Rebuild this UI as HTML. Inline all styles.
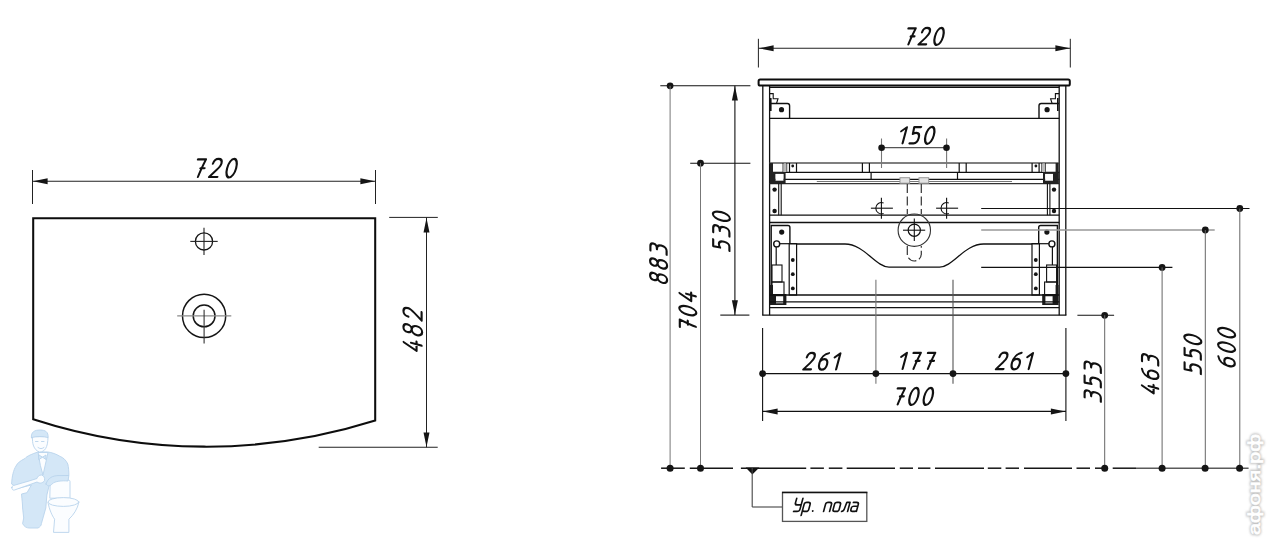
<!DOCTYPE html>
<html><head><meta charset="utf-8"><style>
html,body{margin:0;padding:0;background:#fff;}
body{width:1268px;height:544px;overflow:hidden;font-family:"Liberation Sans",sans-serif;}
svg{display:block;}
</style></head><body>
<svg width="1268" height="544" viewBox="0 0 1268 544">
<rect width="1268" height="544" fill="#fff"/>
<g stroke="#b9d4ec" stroke-width="0.9" stroke-linejoin="round" stroke-linecap="round">
<path fill="#d4e7f7" d="M38,452 C32,454 27,456 24.8,458.6 C20,461 17.5,463 16,466 C13.5,470 12,476 11.6,484 L18.2,488.3 L31.4,485 L27,492.7 L21.5,494 C22,500 22.6,504 22.6,508 L23.7,518 L22.6,523.6 C24,526.5 26.5,528 29.2,528 L38,528 C40,527 41.4,525.5 41.4,523.6 L45.8,508 L46.9,495 L49,486 L55.7,477.3 L68.9,475.5 C68.9,471 68.5,467 67.8,464 C66,460 63,457.5 60.1,456.4 C56,454 52,452.5 48,452 Z"/>
<path fill="#fbfdff" d="M38.5,452.5 L48,452.5 L45,466 L43,475 L40.5,466 Z"/>
<path fill="#d4e7f7" d="M39,455 L42.5,457.2 L46,455 L46,459.5 L42.5,457.2 L39,459.5 Z"/>
<path fill="#fbfdff" d="M32.5,437 C32,443 33.5,450 39.5,452 C44.5,452 48,448 48,437 Z"/>
<path fill="none" d="M35.5,441.5 H38 M41.5,441.5 H44 M38,447.5 C40,449 42,449 44,447.5"/>
<path fill="#d4e7f7" d="M31.4,437.6 C30.8,432 34.5,430 40,430 C45.5,430 48.6,432 48,437.6 C44,436.2 36,436.2 31.4,437.6 Z"/>
<path fill="#fbfdff" d="M11.8,487.5 C11.8,489.5 13,490.5 14.5,490 L30,484.5 L37,482 C40,484 43,483 44.5,480.5 C45,478 44,475.5 41.5,475 C39,475 37.5,476.5 37,478.5 L29,481 L13.5,485.5 C12.5,486 11.8,486.5 11.8,487.5 Z"/>
<path fill="#fbfdff" d="M50.2,481.5 C50.2,480 51,479.5 60,479.5 C69,479.5 70,480 70,481.5 L70,498.2 L50.2,498.2 Z"/>
<path fill="#d4e7f7" d="M46,484 C48,477.5 53,475.8 58,475.6 L68.9,475.5 L68,481 C62,480.5 55,481 52,484 C50.5,486 48,487 46,484 Z"/>
<path fill="#fbfdff" d="M48,502.6 C49.5,510 52,515.5 54.6,519.2 L53.5,532.4 L68.9,532.4 L68.9,519.2 C73.5,515 77.5,509 78.8,502.6 Z"/>
<ellipse cx="63.4" cy="502" rx="15.4" ry="4.4" fill="#fbfdff"/>
</g>
<line x1="32.5" y1="170" x2="32.5" y2="204" stroke="#222" stroke-width="1.0" />
<line x1="375.5" y1="170" x2="375.5" y2="204" stroke="#222" stroke-width="1.0" />
<line x1="32.5" y1="181.3" x2="375.5" y2="181.3" stroke="#222" stroke-width="1.1" />
<path d="M33,181.3 L47.60,178.30 L47.60,184.30 Z" fill="#151515"/>
<path d="M375,181.3 L360.40,184.30 L360.40,178.30 Z" fill="#151515"/>
<path d="M33.2,218.2 H375.2 V420.6 A560,560 0 0 1 33.2,419.2 Z" stroke="#0d0d0d" stroke-width="2.05" fill="none" />
<circle cx="204" cy="241.4" r="8.6" fill="none" stroke="#151515" stroke-width="1.3"/>
<line x1="190.3" y1="241.4" x2="217.7" y2="241.4" stroke="#222" stroke-width="1.1" />
<line x1="204" y1="227.8" x2="204" y2="255" stroke="#222" stroke-width="1.1" />
<circle cx="204.1" cy="315.9" r="21.6" fill="none" stroke="#151515" stroke-width="1.5"/>
<circle cx="204.1" cy="315.9" r="10.9" fill="none" stroke="#151515" stroke-width="1.5"/>
<line x1="177.2" y1="315.9" x2="231.3" y2="315.9" stroke="#8a8a8a" stroke-width="1.3" />
<line x1="204.1" y1="309.7" x2="204.1" y2="343.5" stroke="#333" stroke-width="1.1" />
<line x1="389.2" y1="217.4" x2="437.8" y2="217.4" stroke="#222" stroke-width="1.0" />
<line x1="318.7" y1="447.3" x2="437.7" y2="447.3" stroke="#222" stroke-width="1.1" />
<line x1="426.5" y1="217.4" x2="426.5" y2="447.3" stroke="#222" stroke-width="1.0" />
<path d="M426.5,218 L429.50,232.60 L423.50,232.60 Z" fill="#151515"/>
<path d="M426.5,447 L423.50,432.40 L429.50,432.40 Z" fill="#151515"/>
<line x1="758.4" y1="38.8" x2="758.4" y2="67.5" stroke="#222" stroke-width="1.0" />
<line x1="1070.3" y1="38.8" x2="1070.3" y2="67.5" stroke="#222" stroke-width="1.0" />
<line x1="758.4" y1="48.3" x2="1070.3" y2="48.3" stroke="#222" stroke-width="1.1" />
<path d="M759,48.3 L773.60,45.30 L773.60,51.30 Z" fill="#151515"/>
<path d="M1070,48.3 L1055.40,51.30 L1055.40,45.30 Z" fill="#151515"/>
<rect x="758.6" y="79.6" width="311.2" height="5.9" rx="1.6" fill="none" stroke="#0d0d0d" stroke-width="2.0"/>
<line x1="762.8" y1="85.5" x2="762.8" y2="315.2" stroke="#111" stroke-width="1.3" />
<line x1="769.6" y1="85.5" x2="769.6" y2="315.2" stroke="#111" stroke-width="1.3" />
<line x1="1059.2" y1="85.5" x2="1059.2" y2="315.2" stroke="#111" stroke-width="1.3" />
<line x1="1065.8" y1="85.5" x2="1065.8" y2="315.2" stroke="#111" stroke-width="1.3" />
<line x1="762.2" y1="315.2" x2="1066.4" y2="315.2" stroke="#111" stroke-width="1.3" />
<line x1="769.6" y1="87.3" x2="1059.2" y2="87.3" stroke="#111" stroke-width="1.2" />
<line x1="769.6" y1="118.3" x2="1059.2" y2="118.3" stroke="#111" stroke-width="1.2" />
<path d="M769.6,103.5 H787.4 Q789.6,103.5 789.6,105.7 V118.3" stroke="#111" stroke-width="1.4" fill="none" />
<circle cx="781.5" cy="109.7" r="2.6" fill="#151515"/>
<path d="M769.6,93.6 H773.2 V98.7 H778 L776.5,103.5" stroke="#111" stroke-width="1.1" fill="none" />
<line x1="770.8" y1="98" x2="770.8" y2="111" stroke="#111" stroke-width="1.6" />
<path d="M1059.0,103.5 H1041.1999999999998 Q1039.0,103.5 1039.0,105.7 V118.3" stroke="#111" stroke-width="1.4" fill="none" />
<circle cx="1047.1" cy="109.7" r="2.6" fill="#151515"/>
<path d="M1059.0,93.6 H1055.3999999999999 V98.7 H1050.6 L1052.1,103.5" stroke="#111" stroke-width="1.1" fill="none" />
<line x1="1057.8" y1="98" x2="1057.8" y2="111" stroke="#111" stroke-width="1.6" />
<line x1="769.6" y1="163.0" x2="1059.2" y2="163.0" stroke="#555" stroke-width="1.3" />
<line x1="769.6" y1="172.3" x2="1059.2" y2="172.3" stroke="#111" stroke-width="1.3" />
<line x1="769.6" y1="179.3" x2="1059.2" y2="179.3" stroke="#111" stroke-width="1.3" />
<line x1="816.8" y1="181.5" x2="1012" y2="181.5" stroke="#777" stroke-width="1.0" />
<line x1="769.6" y1="183.6" x2="1059.2" y2="183.6" stroke="#333" stroke-width="1.3" />
<rect x="770" y="163" width="3" height="20.6" stroke="none" stroke-width="0" fill="#222"/>
<line x1="783.2" y1="163" x2="783.2" y2="172.3" stroke="#111" stroke-width="1.2" />
<line x1="786.6" y1="163" x2="786.6" y2="172.3" stroke="#111" stroke-width="1.2" />
<line x1="789.5" y1="163" x2="789.5" y2="172.3" stroke="#111" stroke-width="1.2" />
<line x1="796.5" y1="163" x2="796.5" y2="172.3" stroke="#111" stroke-width="1.2" />
<line x1="862.4" y1="163" x2="862.4" y2="172.3" stroke="#111" stroke-width="1.2" />
<line x1="869.4" y1="163" x2="869.4" y2="172.3" stroke="#111" stroke-width="1.2" />
<circle cx="792.7" cy="166" r="1.4" fill="#151515"/>
<path d="M770,172 H785.6 V184 H770 Z M775.6,173.9 H783.4 V180.4 H775.6 Z" fill="#222" fill-rule="evenodd"/>
<rect x="775.6" y="173.9" width="7.8" height="6.5" fill="#fff"/>
<rect x="783.2" y="163.5" width="3.4" height="8.5" stroke="none" stroke-width="0" fill="#bbb"/>
<line x1="871.1" y1="172.3" x2="871.1" y2="179.3" stroke="#111" stroke-width="1.2" />
<line x1="778.7" y1="183.6" x2="778.7" y2="215.2" stroke="#111" stroke-width="1.1" />
<line x1="781.2" y1="183.6" x2="781.2" y2="215.2" stroke="#111" stroke-width="1.1" />
<circle cx="774.6" cy="189.6" r="2.2" fill="#151515"/>
<circle cx="774.6" cy="211" r="2.2" fill="#151515"/>
<rect x="1055.6" y="163" width="3" height="20.6" stroke="none" stroke-width="0" fill="#222"/>
<line x1="1045.3999999999999" y1="163" x2="1045.3999999999999" y2="172.3" stroke="#111" stroke-width="1.2" />
<line x1="1042.0" y1="163" x2="1042.0" y2="172.3" stroke="#111" stroke-width="1.2" />
<line x1="1039.1" y1="163" x2="1039.1" y2="172.3" stroke="#111" stroke-width="1.2" />
<line x1="1032.1" y1="163" x2="1032.1" y2="172.3" stroke="#111" stroke-width="1.2" />
<line x1="966.1999999999999" y1="163" x2="966.1999999999999" y2="172.3" stroke="#111" stroke-width="1.2" />
<line x1="959.1999999999999" y1="163" x2="959.1999999999999" y2="172.3" stroke="#111" stroke-width="1.2" />
<circle cx="1035.8999999999999" cy="166" r="1.4" fill="#151515"/>
<path d="M1058.6,172 H1043.0 V184 H1058.6 Z M1053.0,173.9 H1045.1999999999998 V180.4 H1053.0 Z" fill="#222" fill-rule="evenodd"/>
<rect x="1045.1999999999998" y="173.9" width="7.8" height="6.5" fill="#fff"/>
<rect x="1042.0" y="163.5" width="3.4" height="8.5" stroke="none" stroke-width="0" fill="#bbb"/>
<line x1="957.4999999999999" y1="172.3" x2="957.4999999999999" y2="179.3" stroke="#111" stroke-width="1.2" />
<line x1="1049.8999999999999" y1="183.6" x2="1049.8999999999999" y2="215.2" stroke="#111" stroke-width="1.1" />
<line x1="1047.3999999999999" y1="183.6" x2="1047.3999999999999" y2="215.2" stroke="#111" stroke-width="1.1" />
<circle cx="1054.0" cy="189.6" r="2.2" fill="#151515"/>
<circle cx="1054.0" cy="211" r="2.2" fill="#151515"/>
<rect x="900" y="177.7" width="9.6" height="5.5" stroke="#999" stroke-width="1.0" fill="#e2e2e2"/>
<rect x="919" y="177.7" width="9.7" height="5.5" stroke="#999" stroke-width="1.0" fill="#e2e2e2"/>
<path d="M907.3,184 V214 M921.3,184 V214" stroke="#333" stroke-width="1.2" fill="none" stroke-dasharray="9,3.5"/>
<path d="M907.3,246 V254 A7,7 0 0 0 921.3,254 V246" stroke="#333" stroke-width="1.2" fill="none" stroke-dasharray="9,3"/>
<line x1="769.6" y1="215.2" x2="1059.2" y2="215.2" stroke="#111" stroke-width="1.3" />
<line x1="769.6" y1="222.5" x2="1059.2" y2="222.5" stroke="#111" stroke-width="1.3" />
<line x1="870.9" y1="208.2" x2="892.9" y2="208.2" stroke="#111" stroke-width="1.1" />
<line x1="881.4" y1="197.7" x2="881.4" y2="218.79999999999998" stroke="#111" stroke-width="1.1" />
<path d="M883.6,202.89999999999998 A5.7,5.7 0 1 0 883.6,213.5" stroke="#111" stroke-width="1.1" fill="none" />
<line x1="936.1" y1="208.2" x2="958.1" y2="208.2" stroke="#111" stroke-width="1.1" />
<line x1="946.6" y1="197.7" x2="946.6" y2="218.79999999999998" stroke="#111" stroke-width="1.1" />
<path d="M948.8000000000001,202.89999999999998 A5.7,5.7 0 1 0 948.8000000000001,213.5" stroke="#111" stroke-width="1.1" fill="none" />
<circle cx="914.3" cy="230.2" r="16.2" fill="none" stroke="#333" stroke-width="1.1"/>
<circle cx="914.3" cy="230.2" r="6.1" fill="none" stroke="#111" stroke-width="1.2"/>
<line x1="903" y1="230.2" x2="925.2" y2="230.2" stroke="#111" stroke-width="1.1" />
<line x1="914.3" y1="218.6" x2="914.3" y2="240.9" stroke="#111" stroke-width="1.1" />
<path d="M771.2,294.8 V225.5 H788 Q789.9,225.5 789.9,227.4 V243.7" stroke="#111" stroke-width="1.4" fill="none" />
<circle cx="781.7" cy="232.1" r="2.6" fill="#151515"/>
<circle cx="776.7" cy="243.9" r="3.0" fill="none" stroke="#111" stroke-width="1.4"/>
<line x1="776.2" y1="246.9" x2="776.2" y2="265" stroke="#111" stroke-width="1.2" />
<rect x="772" y="265" width="10" height="17" stroke="#111" stroke-width="1.1" fill="none"/>
<rect x="772" y="282" width="12" height="13" stroke="#111" stroke-width="1.1" fill="none"/>
<rect x="789.2" y="243.7" width="7.4" height="51.3" stroke="#111" stroke-width="1.2" fill="none"/>
<circle cx="792.8" cy="260" r="1.9" fill="#151515"/>
<circle cx="792.8" cy="274.2" r="1.9" fill="#151515"/>
<circle cx="792.8" cy="288.4" r="1.9" fill="#151515"/>
<line x1="779.7" y1="243.7" x2="796.6" y2="243.7" stroke="#111" stroke-width="1.2" />
<path d="M770,285 H773 V294 H786.4 V305 H770 Z M776,296.2 H783.2 V303.3 H776 Z" fill="#1b1b1b" fill-rule="evenodd"/>
<path d="M1057.3999999999999,294.8 V225.5 H1040.6 Q1038.6999999999998,225.5 1038.6999999999998,227.4 V243.7" stroke="#111" stroke-width="1.4" fill="none" />
<circle cx="1046.8999999999999" cy="232.1" r="2.6" fill="#151515"/>
<circle cx="1051.8999999999999" cy="243.9" r="3.0" fill="none" stroke="#111" stroke-width="1.4"/>
<line x1="1052.3999999999999" y1="246.9" x2="1052.3999999999999" y2="265" stroke="#111" stroke-width="1.2" />
<rect x="1046.6" y="265" width="10" height="17" stroke="#111" stroke-width="1.1" fill="none"/>
<rect x="1044.6" y="282" width="12" height="13" stroke="#111" stroke-width="1.1" fill="none"/>
<rect x="1032.0" y="243.7" width="7.4" height="51.3" stroke="#111" stroke-width="1.2" fill="none"/>
<circle cx="1035.8" cy="260" r="1.9" fill="#151515"/>
<circle cx="1035.8" cy="274.2" r="1.9" fill="#151515"/>
<circle cx="1035.8" cy="288.4" r="1.9" fill="#151515"/>
<line x1="1048.8999999999999" y1="243.7" x2="1032.0" y2="243.7" stroke="#111" stroke-width="1.2" />
<path d="M1058.6,285 H1055.6 V294 H1042.1999999999998 V305 H1058.6 Z M1052.6,296.2 H1045.3999999999999 V303.3 H1052.6 Z" fill="#1b1b1b" fill-rule="evenodd"/>
<path d="M796.6,244 H845 C864,244 876,267.2 889,267.2 H939.6 C952.6,267.2 964.6,244 983.6,244 H1032" stroke="#111" stroke-width="1.3" fill="none" />
<line x1="769.6" y1="295" x2="1059.2" y2="295" stroke="#111" stroke-width="1.3" />
<line x1="769.6" y1="301.8" x2="1059.2" y2="301.8" stroke="#111" stroke-width="1.2" />
<line x1="769.6" y1="307.6" x2="1059.2" y2="307.6" stroke="#111" stroke-width="1.3" />
<line x1="881.5" y1="138.5" x2="881.5" y2="168" stroke="#777" stroke-width="1.1" />
<line x1="946.6" y1="138.5" x2="946.6" y2="168" stroke="#777" stroke-width="1.1" />
<line x1="881.5" y1="147.7" x2="946.6" y2="147.7" stroke="#555" stroke-width="1.2" />
<circle cx="881.6" cy="147.7" r="3.3" fill="#151515"/>
<circle cx="946.5" cy="147.7" r="3.3" fill="#151515"/>
<line x1="875.9" y1="279.7" x2="875.9" y2="383.7" stroke="#777" stroke-width="1.1" />
<line x1="953" y1="279.7" x2="953" y2="383.7" stroke="#555" stroke-width="1.1" />
<line x1="981.2" y1="208.5" x2="1249.5" y2="208.5" stroke="#111" stroke-width="1.1" />
<circle cx="1239.8" cy="208.5" r="3.4" fill="#151515"/>
<line x1="1239.8" y1="208.5" x2="1239.8" y2="468" stroke="#666" stroke-width="1.0" />
<line x1="981.2" y1="230" x2="1214.7" y2="230" stroke="#999" stroke-width="1.4" />
<circle cx="1205.3" cy="230" r="3.4" fill="#151515"/>
<line x1="1205.3" y1="230" x2="1205.3" y2="468" stroke="#666" stroke-width="1.0" />
<line x1="981.2" y1="267.4" x2="1172.4" y2="267.4" stroke="#111" stroke-width="1.1" />
<circle cx="1162.1" cy="267.4" r="3.4" fill="#151515"/>
<line x1="1162.1" y1="267.4" x2="1162.1" y2="468" stroke="#666" stroke-width="1.0" />
<line x1="1077.4" y1="315.3" x2="1114.1" y2="315.3" stroke="#111" stroke-width="1.1" />
<circle cx="1104.7" cy="315.3" r="3.4" fill="#151515"/>
<line x1="1104.7" y1="315.3" x2="1104.7" y2="468" stroke="#666" stroke-width="1.0" />
<line x1="660.3" y1="85.8" x2="750.4" y2="85.8" stroke="#111" stroke-width="1.1" />
<circle cx="670.1" cy="85.8" r="3.4" fill="#151515"/>
<line x1="670.1" y1="85.8" x2="670.1" y2="468" stroke="#777" stroke-width="1.0" />
<line x1="690.2" y1="163.2" x2="750.4" y2="163.2" stroke="#111" stroke-width="1.1" />
<circle cx="700.5" cy="163.2" r="3.4" fill="#151515"/>
<line x1="700.5" y1="163.2" x2="700.5" y2="468" stroke="#777" stroke-width="1.0" />
<line x1="734.9" y1="85.8" x2="734.9" y2="315" stroke="#111" stroke-width="1.1" />
<path d="M734.9,86 L737.90,100.60 L731.90,100.60 Z" fill="#151515"/>
<path d="M734.9,314.8 L731.90,300.20 L737.90,300.20 Z" fill="#151515"/>
<line x1="720.3" y1="315.1" x2="749.4" y2="315.1" stroke="#111" stroke-width="1.1" />
<line x1="762.6" y1="328" x2="762.6" y2="421" stroke="#111" stroke-width="1.1" />
<line x1="1065.9" y1="328" x2="1065.9" y2="421" stroke="#111" stroke-width="1.1" />
<line x1="762.6" y1="373.6" x2="1065.9" y2="373.6" stroke="#111" stroke-width="1.2" />
<circle cx="762.6" cy="373.6" r="3.4" fill="#151515"/>
<circle cx="875.9" cy="373.6" r="3.4" fill="#151515"/>
<circle cx="953" cy="373.6" r="3.4" fill="#151515"/>
<circle cx="1065.9" cy="373.6" r="3.4" fill="#151515"/>
<line x1="762.6" y1="411.4" x2="1065.9" y2="411.4" stroke="#111" stroke-width="1.2" />
<path d="M763,411.4 L777.60,408.40 L777.60,414.40 Z" fill="#151515"/>
<path d="M1065.5,411.4 L1050.90,414.40 L1050.90,408.40 Z" fill="#151515"/>
<line x1="661.1" y1="468.2" x2="684.8" y2="468.2" stroke="#161616" stroke-width="1.5" />
<line x1="689.8" y1="468.2" x2="733" y2="468.2" stroke="#161616" stroke-width="1.5" />
<line x1="740.9" y1="468.2" x2="806.2" y2="468.2" stroke="#161616" stroke-width="1.5" />
<line x1="810.4" y1="468.2" x2="823.9" y2="468.2" stroke="#161616" stroke-width="1.5" />
<line x1="828.8" y1="468.2" x2="842.4" y2="468.2" stroke="#161616" stroke-width="1.5" />
<line x1="846.7" y1="468.2" x2="895" y2="468.2" stroke="#161616" stroke-width="1.5" />
<line x1="899.8" y1="468.2" x2="913" y2="468.2" stroke="#161616" stroke-width="1.5" />
<line x1="918" y1="468.2" x2="930.4" y2="468.2" stroke="#161616" stroke-width="1.5" />
<line x1="935" y1="468.2" x2="984" y2="468.2" stroke="#161616" stroke-width="1.5" />
<line x1="987.8" y1="468.2" x2="1001.3" y2="468.2" stroke="#161616" stroke-width="1.5" />
<line x1="1005.6" y1="468.2" x2="1019" y2="468.2" stroke="#161616" stroke-width="1.5" />
<line x1="1024" y1="468.2" x2="1072" y2="468.2" stroke="#161616" stroke-width="1.5" />
<line x1="1076.5" y1="468.2" x2="1090" y2="468.2" stroke="#161616" stroke-width="1.5" />
<line x1="1095" y1="468.2" x2="1108" y2="468.2" stroke="#161616" stroke-width="1.5" />
<line x1="1112.7" y1="468.2" x2="1136" y2="468.2" stroke="#161616" stroke-width="1.5" />
<line x1="1136" y1="468.2" x2="1248.6" y2="468.2" stroke="#5a5a5a" stroke-width="1.6" />
<circle cx="670.1" cy="468.2" r="3.5" fill="#151515"/>
<circle cx="700.5" cy="468.2" r="3.5" fill="#151515"/>
<circle cx="1104.7" cy="468.2" r="3.5" fill="#151515"/>
<circle cx="1162.1" cy="468.2" r="3.5" fill="#151515"/>
<circle cx="1205.1" cy="468.2" r="3.5" fill="#151515"/>
<circle cx="1239.6" cy="468.2" r="3.5" fill="#151515"/>
<path d="M745.6,467.6 L759.4,467.6 L752.4,474.6 Z" fill="#111"/>
<line x1="752.2" y1="468" x2="752.2" y2="507" stroke="#444" stroke-width="1.1" />
<line x1="752.2" y1="507" x2="782.5" y2="507" stroke="#444" stroke-width="1.1" />
<rect x="782.5" y="492.4" width="84.3" height="29" stroke="#555" stroke-width="1.3" fill="none"/>
<line x1="782" y1="492.4" x2="867.3" y2="492.4" stroke="#111" stroke-width="1.5" />
<g transform="translate(193.20,177.00) scale(1.1) skewX(-15)" fill="none" stroke="#111" stroke-width="1.95" stroke-linecap="round" stroke-linejoin="round"><path transform="translate(0.00,0)" d="M0,-16 H7.3 C6.1,-11 4.8,-5.5 4.3,0 M4.4,-8 H8.2"/><path transform="translate(14.40,0)" d="M0.3,-12 C0.5,-15 2,-16.5 4.1,-16.5 C6.4,-16.5 8,-15 8,-12.3 C8,-10.2 6.8,-8.6 5.2,-6.6 L0,0 H7.6"/><path transform="translate(28.80,0)" d="M4,-16.5 C6.3,-16.5 8.1,-12.7 8.1,-8 C8.1,-3.3 6.3,0.5 4,0.5 C1.7,0.5 -0.1,-3.3 -0.1,-8 C-0.1,-12.7 1.7,-16.5 4,-16.5 Z"/></g>
<g transform="translate(421.60,352.20) rotate(-90) scale(1.1) skewX(-15)" fill="none" stroke="#111" stroke-width="1.95" stroke-linecap="round" stroke-linejoin="round"><path transform="translate(0.00,0)" d="M4.9,-16.3 L0,-4.6 H8.4 M6,-9.6 V0"/><path transform="translate(14.40,0)" d="M4,-9 C2,-9 0.5,-10.6 0.5,-12.8 C0.5,-15 2,-16.5 4,-16.5 C6,-16.5 7.5,-15 7.5,-12.8 C7.5,-10.6 6,-9 4,-9 C1.7,-9 0,-7.2 0,-4.3 C0,-1.4 1.7,0.5 4,0.5 C6.3,0.5 8,-1.4 8,-4.3 C8,-7.2 6.3,-9 4,-9 Z"/><path transform="translate(28.80,0)" d="M0.3,-12 C0.5,-15 2,-16.5 4.1,-16.5 C6.4,-16.5 8,-15 8,-12.3 C8,-10.2 6.8,-8.6 5.2,-6.6 L0,0 H7.6"/></g>
<g transform="translate(904.10,44.40) skewX(-15)" fill="none" stroke="#111" stroke-width="2.15" stroke-linecap="round" stroke-linejoin="round"><path transform="translate(0.00,0)" d="M0,-16 H7.3 C6.1,-11 4.8,-5.5 4.3,0 M4.4,-8 H8.2"/><path transform="translate(14.40,0)" d="M0.3,-12 C0.5,-15 2,-16.5 4.1,-16.5 C6.4,-16.5 8,-15 8,-12.3 C8,-10.2 6.8,-8.6 5.2,-6.6 L0,0 H7.6"/><path transform="translate(28.80,0)" d="M4,-16.5 C6.3,-16.5 8.1,-12.7 8.1,-8 C8.1,-3.3 6.3,0.5 4,0.5 C1.7,0.5 -0.1,-3.3 -0.1,-8 C-0.1,-12.7 1.7,-16.5 4,-16.5 Z"/></g>
<g transform="translate(898.60,143.30) skewX(-15)" fill="none" stroke="#111" stroke-width="2.15" stroke-linecap="round" stroke-linejoin="round"><path transform="translate(0.00,0)" d="M-0.6,-12 L4,-16 V0"/><path transform="translate(10.60,0)" d="M7.6,-16.2 H0.7 L1.2,-9.3 C2,-10 3,-10.5 4.3,-10.5 C6.6,-10.5 8.1,-8.6 8.1,-5.2 C8.1,-1.8 6.6,0 4.5,0 H0.3"/><path transform="translate(25.00,0)" d="M4,-16.5 C6.3,-16.5 8.1,-12.7 8.1,-8 C8.1,-3.3 6.3,0.5 4,0.5 C1.7,0.5 -0.1,-3.3 -0.1,-8 C-0.1,-12.7 1.7,-16.5 4,-16.5 Z"/></g>
<g transform="translate(666.60,283.90) rotate(-90) skewX(-15)" fill="none" stroke="#111" stroke-width="2.15" stroke-linecap="round" stroke-linejoin="round"><path transform="translate(0.00,0)" d="M4,-9 C2,-9 0.5,-10.6 0.5,-12.8 C0.5,-15 2,-16.5 4,-16.5 C6,-16.5 7.5,-15 7.5,-12.8 C7.5,-10.6 6,-9 4,-9 C1.7,-9 0,-7.2 0,-4.3 C0,-1.4 1.7,0.5 4,0.5 C6.3,0.5 8,-1.4 8,-4.3 C8,-7.2 6.3,-9 4,-9 Z"/><path transform="translate(14.40,0)" d="M4,-9 C2,-9 0.5,-10.6 0.5,-12.8 C0.5,-15 2,-16.5 4,-16.5 C6,-16.5 7.5,-15 7.5,-12.8 C7.5,-10.6 6,-9 4,-9 C1.7,-9 0,-7.2 0,-4.3 C0,-1.4 1.7,0.5 4,0.5 C6.3,0.5 8,-1.4 8,-4.3 C8,-7.2 6.3,-9 4,-9 Z"/><path transform="translate(28.80,0)" d="M0.4,-16.2 H4.6 C6.8,-16.2 8,-14.9 8,-13 C8,-11.1 6.7,-9.7 3.3,-9.7 H3.9 C6.7,-9.7 8.2,-7.9 8.2,-5 C8.2,-1.8 6.6,0 4.2,0 H0.3"/></g>
<g transform="translate(729.40,251.20) rotate(-90) skewX(-15)" fill="none" stroke="#111" stroke-width="2.15" stroke-linecap="round" stroke-linejoin="round"><path transform="translate(0.00,0)" d="M7.6,-16.2 H0.7 L1.2,-9.3 C2,-10 3,-10.5 4.3,-10.5 C6.6,-10.5 8.1,-8.6 8.1,-5.2 C8.1,-1.8 6.6,0 4.5,0 H0.3"/><path transform="translate(14.40,0)" d="M0.4,-16.2 H4.6 C6.8,-16.2 8,-14.9 8,-13 C8,-11.1 6.7,-9.7 3.3,-9.7 H3.9 C6.7,-9.7 8.2,-7.9 8.2,-5 C8.2,-1.8 6.6,0 4.2,0 H0.3"/><path transform="translate(28.80,0)" d="M4,-16.5 C6.3,-16.5 8.1,-12.7 8.1,-8 C8.1,-3.3 6.3,0.5 4,0.5 C1.7,0.5 -0.1,-3.3 -0.1,-8 C-0.1,-12.7 1.7,-16.5 4,-16.5 Z"/></g>
<g transform="translate(695.80,331.10) rotate(-90) skewX(-15)" fill="none" stroke="#111" stroke-width="2.15" stroke-linecap="round" stroke-linejoin="round"><path transform="translate(0.00,0)" d="M0,-16 H7.3 C6.1,-11 4.8,-5.5 4.3,0 M4.4,-8 H8.2"/><path transform="translate(14.40,0)" d="M4,-16.5 C6.3,-16.5 8.1,-12.7 8.1,-8 C8.1,-3.3 6.3,0.5 4,0.5 C1.7,0.5 -0.1,-3.3 -0.1,-8 C-0.1,-12.7 1.7,-16.5 4,-16.5 Z"/><path transform="translate(28.80,0)" d="M4.9,-16.3 L0,-4.6 H8.4 M6,-9.6 V0"/></g>
<g transform="translate(803.30,369.40) skewX(-15)" fill="none" stroke="#111" stroke-width="2.15" stroke-linecap="round" stroke-linejoin="round"><path transform="translate(0.00,0)" d="M0.3,-12 C0.5,-15 2,-16.5 4.1,-16.5 C6.4,-16.5 8,-15 8,-12.3 C8,-10.2 6.8,-8.6 5.2,-6.6 L0,0 H7.6"/><path transform="translate(14.40,0)" d="M6.9,-16.2 C3.2,-15.6 0,-12.2 0,-6.5 C0,-2.1 1.7,0.2 4,0.2 C6.5,0.2 8,-1.8 8,-5 C8,-8.2 6.3,-10.3 4,-10.3 C2.2,-10.3 0.8,-9.3 0.1,-7.6"/><path transform="translate(28.80,0)" d="M-0.6,-12 L4,-16 V0"/></g>
<g transform="translate(898.60,368.90) skewX(-15)" fill="none" stroke="#111" stroke-width="2.15" stroke-linecap="round" stroke-linejoin="round"><path transform="translate(0.00,0)" d="M-0.6,-12 L4,-16 V0"/><path transform="translate(10.60,0)" d="M0,-16 H7.3 C6.1,-11 4.8,-5.5 4.3,0 M4.4,-8 H8.2"/><path transform="translate(25.00,0)" d="M0,-16 H7.3 C6.1,-11 4.8,-5.5 4.3,0 M4.4,-8 H8.2"/></g>
<g transform="translate(995.90,369.10) skewX(-15)" fill="none" stroke="#111" stroke-width="2.15" stroke-linecap="round" stroke-linejoin="round"><path transform="translate(0.00,0)" d="M0.3,-12 C0.5,-15 2,-16.5 4.1,-16.5 C6.4,-16.5 8,-15 8,-12.3 C8,-10.2 6.8,-8.6 5.2,-6.6 L0,0 H7.6"/><path transform="translate(14.40,0)" d="M6.9,-16.2 C3.2,-15.6 0,-12.2 0,-6.5 C0,-2.1 1.7,0.2 4,0.2 C6.5,0.2 8,-1.8 8,-5 C8,-8.2 6.3,-10.3 4,-10.3 C2.2,-10.3 0.8,-9.3 0.1,-7.6"/><path transform="translate(28.80,0)" d="M-0.6,-12 L4,-16 V0"/></g>
<g transform="translate(893.40,404.40) skewX(-15)" fill="none" stroke="#111" stroke-width="2.15" stroke-linecap="round" stroke-linejoin="round"><path transform="translate(0.00,0)" d="M0,-16 H7.3 C6.1,-11 4.8,-5.5 4.3,0 M4.4,-8 H8.2"/><path transform="translate(14.40,0)" d="M4,-16.5 C6.3,-16.5 8.1,-12.7 8.1,-8 C8.1,-3.3 6.3,0.5 4,0.5 C1.7,0.5 -0.1,-3.3 -0.1,-8 C-0.1,-12.7 1.7,-16.5 4,-16.5 Z"/><path transform="translate(28.80,0)" d="M4,-16.5 C6.3,-16.5 8.1,-12.7 8.1,-8 C8.1,-3.3 6.3,0.5 4,0.5 C1.7,0.5 -0.1,-3.3 -0.1,-8 C-0.1,-12.7 1.7,-16.5 4,-16.5 Z"/></g>
<g transform="translate(1100.80,402.00) rotate(-90) skewX(-15)" fill="none" stroke="#111" stroke-width="2.15" stroke-linecap="round" stroke-linejoin="round"><path transform="translate(0.00,0)" d="M0.4,-16.2 H4.6 C6.8,-16.2 8,-14.9 8,-13 C8,-11.1 6.7,-9.7 3.3,-9.7 H3.9 C6.7,-9.7 8.2,-7.9 8.2,-5 C8.2,-1.8 6.6,0 4.2,0 H0.3"/><path transform="translate(14.40,0)" d="M7.6,-16.2 H0.7 L1.2,-9.3 C2,-10 3,-10.5 4.3,-10.5 C6.6,-10.5 8.1,-8.6 8.1,-5.2 C8.1,-1.8 6.6,0 4.5,0 H0.3"/><path transform="translate(28.80,0)" d="M0.4,-16.2 H4.6 C6.8,-16.2 8,-14.9 8,-13 C8,-11.1 6.7,-9.7 3.3,-9.7 H3.9 C6.7,-9.7 8.2,-7.9 8.2,-5 C8.2,-1.8 6.6,0 4.2,0 H0.3"/></g>
<g transform="translate(1158.20,394.60) rotate(-90) skewX(-15)" fill="none" stroke="#111" stroke-width="2.15" stroke-linecap="round" stroke-linejoin="round"><path transform="translate(0.00,0)" d="M4.9,-16.3 L0,-4.6 H8.4 M6,-9.6 V0"/><path transform="translate(14.40,0)" d="M6.9,-16.2 C3.2,-15.6 0,-12.2 0,-6.5 C0,-2.1 1.7,0.2 4,0.2 C6.5,0.2 8,-1.8 8,-5 C8,-8.2 6.3,-10.3 4,-10.3 C2.2,-10.3 0.8,-9.3 0.1,-7.6"/><path transform="translate(28.80,0)" d="M0.4,-16.2 H4.6 C6.8,-16.2 8,-14.9 8,-13 C8,-11.1 6.7,-9.7 3.3,-9.7 H3.9 C6.7,-9.7 8.2,-7.9 8.2,-5 C8.2,-1.8 6.6,0 4.2,0 H0.3"/></g>
<g transform="translate(1200.80,374.30) rotate(-90) skewX(-15)" fill="none" stroke="#111" stroke-width="2.15" stroke-linecap="round" stroke-linejoin="round"><path transform="translate(0.00,0)" d="M7.6,-16.2 H0.7 L1.2,-9.3 C2,-10 3,-10.5 4.3,-10.5 C6.6,-10.5 8.1,-8.6 8.1,-5.2 C8.1,-1.8 6.6,0 4.5,0 H0.3"/><path transform="translate(14.40,0)" d="M7.6,-16.2 H0.7 L1.2,-9.3 C2,-10 3,-10.5 4.3,-10.5 C6.6,-10.5 8.1,-8.6 8.1,-5.2 C8.1,-1.8 6.6,0 4.5,0 H0.3"/><path transform="translate(28.80,0)" d="M4,-16.5 C6.3,-16.5 8.1,-12.7 8.1,-8 C8.1,-3.3 6.3,0.5 4,0.5 C1.7,0.5 -0.1,-3.3 -0.1,-8 C-0.1,-12.7 1.7,-16.5 4,-16.5 Z"/></g>
<g transform="translate(1234.60,367.60) rotate(-90) skewX(-15)" fill="none" stroke="#111" stroke-width="2.15" stroke-linecap="round" stroke-linejoin="round"><path transform="translate(0.00,0)" d="M6.9,-16.2 C3.2,-15.6 0,-12.2 0,-6.5 C0,-2.1 1.7,0.2 4,0.2 C6.5,0.2 8,-1.8 8,-5 C8,-8.2 6.3,-10.3 4,-10.3 C2.2,-10.3 0.8,-9.3 0.1,-7.6"/><path transform="translate(14.40,0)" d="M4,-16.5 C6.3,-16.5 8.1,-12.7 8.1,-8 C8.1,-3.3 6.3,0.5 4,0.5 C1.7,0.5 -0.1,-3.3 -0.1,-8 C-0.1,-12.7 1.7,-16.5 4,-16.5 Z"/><path transform="translate(28.80,0)" d="M4,-16.5 C6.3,-16.5 8.1,-12.7 8.1,-8 C8.1,-3.3 6.3,0.5 4,0.5 C1.7,0.5 -0.1,-3.3 -0.1,-8 C-0.1,-12.7 1.7,-16.5 4,-16.5 Z"/></g>
<g transform="translate(793.2,511.4) skewX(-15)" fill="none" stroke="#111" stroke-width="1.65" stroke-linecap="round" stroke-linejoin="round"><path transform="translate(0.00,0)" d="M0,-13 V-8.6 C0,-7.3 0.8,-6.5 2.2,-6.5 H6 M6.2,-13 V-2.2 C6.2,-0.8 5.4,0 4,0 H0.4"/><path transform="translate(9.00,0)" d="M0,4 V-7 C0,-8.3 0.8,-9 2.1,-9 H4 C5.4,-9 6,-8.3 6,-7 V-2 C6,-0.7 5.3,0 4,0 H2 C0.7,0 0,-0.7 0,-2"/><path transform="translate(18.20,0)" d="M1.1,-0.5 L1.4,-0.2"/><path transform="translate(30.40,0)" d="M0,0 V-7 C0,-8.3 0.8,-9 2.1,-9 H4 C5.3,-9 6,-8.3 6,-7 V0"/><path transform="translate(39.40,0)" d="M2,-9 H4 C5.3,-9 6,-8.3 6,-7 V-2 C6,-0.7 5.3,0 4,0 H2 C0.7,0 0,-0.7 0,-2 V-7 C0,-8.3 0.7,-9 2,-9 Z"/><path transform="translate(48.40,0)" d="M0,0 C1.3,0 1.9,-0.8 2.1,-2.5 L2.8,-9 H6 V0"/><path transform="translate(57.20,0)" d="M0.6,-9 H4 C5.3,-9 6,-8.3 6,-7 V0 M6,-5.2 H2 C0.7,-5.2 0,-4.5 0,-3.2 V-2 C0,-0.7 0.7,0 2,0 H4.5 C5.5,0 6,-0.6 6,-1.6"/></g>
<defs><filter id="wmf" x="-30%" y="-30%" width="160%" height="160%"><feGaussianBlur stdDeviation="1.1"/></filter></defs>
<g transform="translate(1260,535) rotate(-90)" font-family="Liberation Sans, sans-serif" font-size="16">
<text x="0" y="0" textLength="101" lengthAdjust="spacingAndGlyphs" fill="none" stroke="#c4c4c4" stroke-width="2.4" filter="url(#wmf)">афоня.рф</text>
<text x="0" y="0" textLength="101" lengthAdjust="spacingAndGlyphs" fill="#fff" stroke="#fff" stroke-width="0.6">афоня.рф</text></g>
</svg>
</body></html>
